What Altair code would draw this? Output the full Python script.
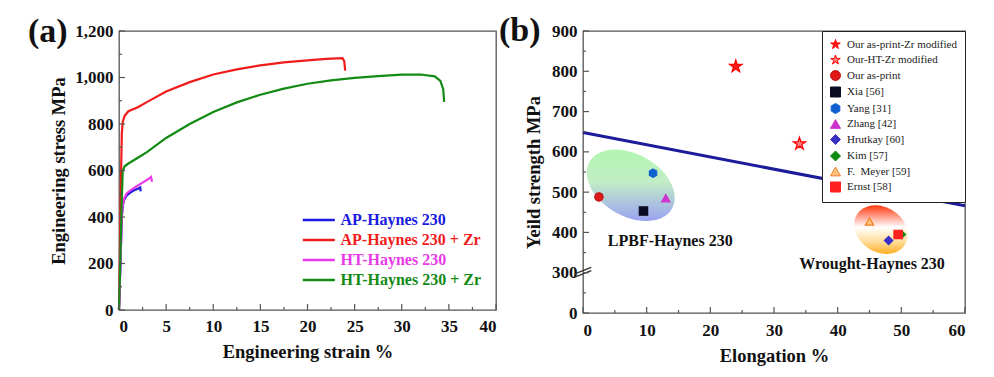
import altair as alt
import numpy as np
import pandas as pd

SERIF = "Liberation Serif"
TICK_COLOR = "#555555"

# ---------------- Panel (a): stress-strain curves ----------------
series_a = ["AP-Haynes 230", "AP-Haynes 230 + Zr", "HT-Haynes 230", "HT-Haynes 230 + Zr"]
colors_a = ["#1a1ae0", "#f01c1c", "#e83ae8", "#138a13"]

ap_strain = [0, 0.15, 0.3, 0.4, 0.55, 0.8, 1.2, 1.6, 2.0, 2.25, 2.3]
ap_stress = [0, 200, 400, 450, 475, 492, 505, 515, 522, 527, 510]

apzr_strain = [0, 0.1, 0.2, 0.3, 0.4, 0.6, 1.0, 2, 3, 5, 7.5, 10, 12.5, 15, 17.5, 20, 22, 23.7, 23.9, 24.0]
apzr_stress = [0, 250, 550, 760, 810, 835, 855, 872, 895, 940, 980, 1013, 1035, 1052, 1065, 1074, 1080, 1083, 1070, 1030]

ht_strain = [0, 0.15, 0.3, 0.4, 0.55, 0.8, 1.2, 1.8, 2.5, 3.0, 3.4, 3.5]
ht_stress = [0, 200, 400, 452, 480, 500, 515, 530, 548, 560, 572, 552]

htzr_strain = [0, 0.1, 0.2, 0.3, 0.4, 0.6, 1, 2, 3, 5, 7.5, 10, 12.5, 15, 17.5, 20, 22.5, 25, 27.5, 30, 32, 33.5, 34.1, 34.4, 34.5]
htzr_stress = [0, 150, 320, 480, 600, 618, 630, 655, 680, 740, 800, 852, 893, 926, 952, 973, 988, 998, 1006, 1012, 1013, 1005, 985, 950, 895]

xa_major = [0, 5, 10, 15, 20, 25, 30, 35, 40]
xa_minor = [2.5, 7.5, 12.5, 17.5, 22.5, 27.5, 32.5, 37.5]
ya_major = [0, 200, 400, 600, 800, 1000, 1200]
ya_minor = [100, 300, 500, 700, 900, 1100]

# legend block of panel (a), placed in data units
LEG_A = dict(x0=19.5, x1=22.9, xt=23.5, y0=387, dy=86)

# ---------------- Panel (b): yield strength vs elongation ----------------
names_b = ["Our as-print-Zr modified", "Our-HT-Zr modified", "Our as-print", "Xia [56]", "Yang [31]",
           "Zhang [42]", "Hrutkay [60]", "Kim [57]", "F.\u00a0 Meyer [59]", "Ernst [58]"]
elong_b = [24, 34, 2.5, 9.5, 11, 13, 48, 50, 45, 49.5]
ys_b = [812, 620, 488, 453, 547, 485, 380, 395, 427, 395]
STAR = ("M0,-1L0.2245,-0.309L0.951,-0.309L0.363,0.118L0.588,0.809L0,0.382"
        "L-0.588,0.809L-0.363,0.118L-0.951,-0.309L-0.2245,-0.309Z")
HEX = "M0,-1L0.866,-0.5L0.866,0.5L0,1L-0.866,0.5L-0.866,-0.5Z"
shapes_b = [STAR, STAR, "circle", "square", HEX, "triangle-up", "diamond", "diamond", "triangle-up", "square"]
fills_b = ["#ff1a1a", "#ff7a7a", "#e01818", "#0a0a22", "#1060d0", "#cc33cc", "#3a30c8", "#108a10", "#ffc080", "#ff2020"]
strokes_b = ["#ff0000", "#ff0000", "#c01818", "#0a0a22", "#1060d0", "#cc33cc", "#3a30c8", "#108a10", "#f08020", "#ff2020"]
is_star_b = [True, True, False, False, False, False, False, False, False, False]

trend_elong = [0, 60]
trend_ys = [648, 466]

ann_text = ["LPBF-Haynes 230", "Wrought-Haynes 230"]
ann_elong = [13.7, 45.4]
ann_ys = [378, 321]

lpbf_ellipse = dict(cx=7.5, cy=517, a=6.9, b=83, tilt=-4.5)
wrought_ellipse = dict(cx=46.8, cy=407, a=4.2, b=59, tilt=-3.0)

xb_major = [0, 10, 20, 30, 40, 50, 60]
xb_minor = [5, 15, 25, 35, 45, 55]
yb_major_labels = [0, 300, 400, 500, 600, 700, 800, 900]
yb_minor_labels = [150, 350, 450, 550, 650, 750, 850]
BREAK_AT = 300


def brk(v):
    """Broken axis: 0-300 compressed into one 100-unit band, above 300 linear."""
    v = np.asarray(v, dtype=float)
    return np.where(v >= BREAK_AT, v - 200.0, v / 3.0)


def fl(seq):
    return [float(v) for v in seq]


W_A, H_A = 377, 279
W_B, H_B = 382, 282
MAJOR_LEN, MINOR_LEN = 6, 3


def labeled_x(values, title, **kw):
    return alt.Axis(orient="bottom", values=values, title=title, ticks=False, tickSize=0,
                    domain=False, grid=False, labelOverlap=False, **kw)


def labeled_y(values, title, **kw):
    return alt.Axis(orient="left", values=values, title=title, ticks=False, tickSize=0,
                    domain=False, grid=False, labelOverlap=False, **kw)


def inward_ticks(xvals, yvals, length, xscale, yscale, H):
    """Tick marks drawn inside the frame on the bottom and left edges."""
    tx = alt.Chart(pd.DataFrame({"v": fl(xvals)})).mark_rule(
        color=TICK_COLOR, strokeWidth=1.2).encode(
        x=alt.X("v:Q", scale=xscale, axis=None), y=alt.value(H), y2=alt.value(H - length))
    ty = alt.Chart(pd.DataFrame({"v": fl(yvals)})).mark_rule(
        color=TICK_COLOR, strokeWidth=1.2).encode(
        y=alt.Y("v:Q", scale=yscale, axis=None), x=alt.value(0), x2=alt.value(length))
    return [tx, ty]


# ---------------- build panel (a) ----------------
rows = []
for name, xs, ys in zip(series_a, [ap_strain, apzr_strain, ht_strain, htzr_strain],
                        [ap_stress, apzr_stress, ht_stress, htzr_stress]):
    for i, (xv, yv) in enumerate(zip(xs, ys)):
        rows.append({"series": name, "strain": float(xv), "stress": float(yv), "idx": i})
df_a = pd.DataFrame(rows)

xs_a = alt.Scale(domain=[0, 40], nice=False, zero=False)
ys_a = alt.Scale(domain=[0, 1200], nice=False)
col_a = alt.Scale(domain=series_a, range=colors_a)

curves = alt.Chart(df_a).mark_line(strokeWidth=2.2).encode(
    x=alt.X("strain:Q", scale=xs_a,
            axis=labeled_x(xa_major, "Engineering strain %", labelPadding=8, titlePadding=8)),
    y=alt.Y("stress:Q", scale=ys_a,
            axis=labeled_y(ya_major, "Engineering stress MPa", labelPadding=6, titlePadding=6)),
    color=alt.Color("series:N", scale=col_a, legend=None),
    order="idx:Q",
)

df_leg_a = pd.DataFrame({
    "series": series_a,
    "x0": LEG_A["x0"], "x1": LEG_A["x1"], "xt": LEG_A["xt"],
    "y": [float(LEG_A["y0"] - i * LEG_A["dy"]) for i in range(len(series_a))],
})
leg_lines = alt.Chart(df_leg_a).mark_rule(strokeWidth=2.6).encode(
    x=alt.X("x0:Q", scale=xs_a, axis=None), x2="x1:Q",
    y=alt.Y("y:Q", scale=ys_a, axis=None),
    color=alt.Color("series:N", scale=col_a, legend=None))
leg_text = alt.Chart(df_leg_a).mark_text(font=SERIF, fontWeight="bold", fontSize=16, align="left",
                                          baseline="middle").encode(
    x=alt.X("xt:Q", scale=xs_a, axis=None),
    y=alt.Y("y:Q", scale=ys_a, axis=None),
    text="series:N",
    color=alt.Color("series:N", scale=col_a, legend=None))

label_a = alt.Chart(pd.DataFrame({"t": ["(a)"]})).mark_text(
    font=SERIF, fontWeight="bold", fontSize=34, align="left", baseline="middle", color="#111"
).encode(text="t:N", x=alt.value(-91), y=alt.value(1))

panel_a = alt.layer(
    curves, leg_lines, leg_text,
    *inward_ticks(xa_major, ya_major, MAJOR_LEN, xs_a, ys_a, H_A),
    *inward_ticks(xa_minor, ya_minor, MINOR_LEN, xs_a, ys_a, H_A),
    label_a,
).resolve_axis(x="independent", y="independent").properties(width=W_A, height=H_A)

# ---------------- build panel (b) ----------------
df_pts = pd.DataFrame({"name": names_b, "elong": fl(elong_b), "yp": fl(brk(ys_b)), "star": is_star_b})

xs_b = alt.Scale(domain=[0, 60], nice=False, zero=False)
ys_b_scale = alt.Scale(domain=[0, 700], nice=False)


def ellipse_df(p, n=90):
    t = -np.cos(np.linspace(0, np.pi, n))
    x = p["cx"] + p["a"] * t
    h = p["b"] * np.sqrt(np.clip(1 - t ** 2, 0, None))
    mid = p["cy"] + p["tilt"] * p["a"] * t
    return pd.DataFrame({"x": fl(x), "top": fl(brk(mid + h)), "bot": fl(brk(mid - h))})


def grad(stops):
    return alt.Gradient(gradient="linear", x1=0, x2=0, y1=0, y2=1,
                        stops=[alt.GradientStop(color=c, offset=o) for o, c in stops])


ell1 = alt.Chart(ellipse_df(lpbf_ellipse)).mark_area(
    color=grad([(0, "#b0f6b0"), (0.45, "#c2edc6"), (1, "#9aa2f2")]), interpolate="monotone"
).encode(x=alt.X("x:Q", scale=xs_b, axis=None), y=alt.Y("top:Q", scale=ys_b_scale, axis=None), y2="bot:Q")

ell2 = alt.Chart(ellipse_df(wrought_ellipse)).mark_area(
    color=grad([(0, "#ff3a10"), (0.45, "#ffffff"), (0.75, "#ffdc9a"), (1, "#ffb020")]), interpolate="monotone"
).encode(x=alt.X("x:Q", scale=xs_b, axis=None), y=alt.Y("top:Q", scale=ys_b_scale, axis=None), y2="bot:Q")

df_trend = pd.DataFrame({"x": fl(trend_elong), "yp": fl(brk(trend_ys))})
trend = alt.Chart(df_trend).mark_line(color="#1c1c9a", strokeWidth=3).encode(
    x=alt.X("x:Q", scale=xs_b, axis=None), y=alt.Y("yp:Q", scale=ys_b_scale, axis=None))

leg_b = alt.Legend(title=None, orient="top-right", offset=0, strokeColor="#222", fillColor="white",
                   padding=8, rowPadding=1.5, labelFont=SERIF, labelFontSize=11, labelFontWeight="normal",
                   labelColor="#222", labelOffset=6, labelLimit=300, symbolStrokeWidth=1, symbolSize=100)

y_label_expr = "datum.value == 0 ? '0' : '' + (datum.value + 200)"
shape_enc = alt.Shape("name:N", scale=alt.Scale(domain=names_b, range=shapes_b), legend=leg_b)
fill_enc = alt.Fill("name:N", scale=alt.Scale(domain=names_b, range=fills_b), legend=leg_b)
stroke_enc = alt.Stroke("name:N", scale=alt.Scale(domain=names_b, range=strokes_b), legend=leg_b)

points_other = alt.Chart(df_pts).transform_filter("!datum.star").mark_point(
    filled=True, opacity=1, strokeWidth=1.2, size=70).encode(
    x=alt.X("elong:Q", scale=xs_b, axis=labeled_x(xb_major, "Elongation %", labelPadding=9, titlePadding=8)),
    y=alt.Y("yp:Q", scale=ys_b_scale,
            axis=labeled_y(fl(brk(yb_major_labels)), "Yeild strength MPa",
                           labelPadding=6, titlePadding=8, labelExpr=y_label_expr)),
    shape=shape_enc, fill=fill_enc, stroke=stroke_enc,
)
points_star = alt.Chart(df_pts).transform_filter("datum.star").mark_point(
    filled=True, opacity=1, strokeWidth=1.2, size=170).encode(
    x=alt.X("elong:Q", scale=xs_b, axis=None),
    y=alt.Y("yp:Q", scale=ys_b_scale, axis=None),
    shape=shape_enc, fill=fill_enc, stroke=stroke_enc,
)

df_ann = pd.DataFrame({"t": ann_text, "x": fl(ann_elong), "yp": fl(brk(ann_ys))})
ann = alt.Chart(df_ann).mark_text(font=SERIF, fontWeight="bold", fontSize=16, color="#111").encode(
    x=alt.X("x:Q", scale=xs_b, axis=None), y=alt.Y("yp:Q", scale=ys_b_scale, axis=None), text="t:N")

# axis-break marks ("//") at the 300 position on the y axis
bp = float(brk([BREAK_AT])[0])
df_brk = pd.DataFrame({"x1": [-1.3, -1.3], "x2": [1.3, 1.3],
                       "y1": [bp - 11, bp - 3], "y2": [bp + 5, bp + 13]})
brk_marks = alt.Chart(df_brk).mark_rule(color="#333", strokeWidth=1.3).encode(
    x=alt.X("x1:Q", scale=xs_b, axis=None), x2="x2:Q",
    y=alt.Y("y1:Q", scale=ys_b_scale, axis=None), y2="y2:Q")

label_b = alt.Chart(pd.DataFrame({"t": ["(b)"]})).mark_text(
    font=SERIF, fontWeight="bold", fontSize=34, align="left", baseline="middle", color="#111"
).encode(text="t:N", x=alt.value(-84), y=alt.value(0))

panel_b = alt.layer(
    ell1, ell2, trend, points_other, points_star, ann, brk_marks,
    *inward_ticks(xb_major, brk(yb_major_labels), MAJOR_LEN, xs_b, ys_b_scale, H_B),
    *inward_ticks(xb_minor, brk(yb_minor_labels), MINOR_LEN, xs_b, ys_b_scale, H_B),
    label_b,
).resolve_axis(x="independent", y="independent").properties(width=W_B, height=H_B)

chart = alt.hconcat(panel_a, panel_b, spacing=0).resolve_scale(
    color="independent", shape="independent", fill="independent", stroke="independent"
).properties(padding={"left": 19, "top": 5, "right": 5, "bottom": 5}).configure_view(
    stroke=TICK_COLOR, strokeWidth=1.3
).configure_axis(
    labelFont=SERIF, labelFontWeight="bold", labelFontSize=17, labelColor="#111",
    titleFont=SERIF, titleFontWeight="bold", titleFontSize=18.5, titleColor="#111",
)

chart.save("out.html", embed_options={"renderer": "svg", "actions": False})
